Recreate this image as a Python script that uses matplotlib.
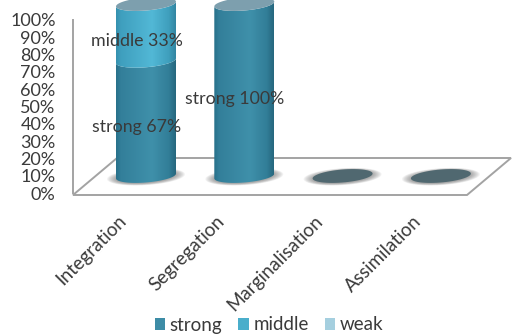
import numpy as np
import matplotlib
matplotlib.use('Agg')
import matplotlib.pyplot as plt
from matplotlib.colors import to_rgb
from matplotlib.patches import PathPatch, Patch, Polygon
from matplotlib.path import Path

categories = ['Integration', 'Segregation', 'Marginalisation', 'Assimilation']
series_names = ['strong', 'middle', 'weak']
strong = [67, 100, 0, 0]
middle = [33, 0, 0, 0]
weak = [0, 0, 0, 0]
axis_ticks = [0, 10, 20, 30, 40, 50, 60, 70, 80, 90, 100]

W, H = 512, 336
PX_PER_CAT = 98.3
PX_PER_PCT = 1.72
RX = 30 / PX_PER_CAT
RY = 6.5 / PX_PER_PCT
TILT = 2.4 / PX_PER_PCT

TEXT = '#3a3a3a'
GRID = '#a3a3a3'
LEGEND_COLORS = ['#3d8ca6', '#4aaecb', '#a5cfdf']
# colour stops across the width of each cylinder segment
STOPS = [0, 0.08, 0.6, 0.88, 1]
SHADES = {
    'strong': ['#27708a', '#337f9a', '#3f90aa', '#327e98', '#26677e'],
    'middle': ['#3590ae', '#3f9fbe', '#52b8d6', '#3f9fbd', '#3285a1'],
}

plt.rcParams['font.family'] = ['Lato', 'DejaVu Sans']


def fig_xy(x, y):
    return x / W, 1 - y / H


def arc(i, v, start, stop, scale=1.0):
    t = np.linspace(start, stop, 60)
    return np.column_stack([i + scale * RX * np.cos(t),
                            v + scale * RY * np.sin(t) + TILT * np.cos(t)])


def gradient(shades):
    c = np.array([to_rgb(s) for s in shades])
    pos = np.linspace(0, 1, 200)
    rgb = [np.interp(pos, STOPS, c[:, k]) for k in range(3)]
    return np.dstack(rgb)


def draw_segment(ax, i, v0, v1, shades):
    pts = np.vstack([arc(i, v0, np.pi, 2 * np.pi), arc(i, v1, 2 * np.pi, np.pi)])
    clip = PathPatch(Path(np.vstack([pts, pts[0]])), transform=ax.transData, fc='none', ec='none')
    ax.add_patch(clip)
    im = ax.imshow(gradient(shades), extent=[i - RX, i + RX, v0 - 2 * RY, v1 + 2 * RY],
                   aspect='auto', zorder=3, interpolation='bilinear')
    im.set_clip_path(clip)


def draw_ellipse(ax, i, v, color, zorder=3):
    ax.add_patch(Polygon(arc(i, v, 0, 2 * np.pi), closed=True, fc=color, ec='none', zorder=zorder))


def draw_shadow(ax, i):
    # soft blob under each cylinder, built from fading ellipses
    for scale in np.linspace(1.3, 1.0, 10):
        ax.add_patch(Polygon(arc(i, -0.4, 0, 2 * np.pi, scale), closed=True, fc='#666666',
                             ec='none', alpha=0.075, zorder=2))


fig = plt.figure(figsize=(W / 100, H / 100), dpi=100)

# floor of the 3D box
floor = [fig_xy(73, 195), fig_xy(467, 195), fig_xy(511, 158), fig_xy(117, 158)]
fig.add_artist(Polygon(floor, closed=True, fc='white', ec=GRID, lw=1.4,
                       transform=fig.transFigure, zorder=0))

# back wall axis with the percentage scale
x0, y0 = fig_xy(73, 193)
wall = fig.add_axes([x0, y0, 40 / W, 173 / H], facecolor='none', zorder=1)
wall.set_ylim(0, 100)
wall.set_xticks([])
wall.set_yticks(axis_ticks)
wall.set_yticklabels([f'{t}%' for t in axis_ticks], fontsize=13, color=TEXT)
wall.tick_params(axis='y', length=0, pad=12.5)
for name in ['top', 'right', 'bottom']:
    wall.spines[name].set_visible(False)
wall.spines['left'].set_color(GRID)
wall.spines['left'].set_linewidth(1.4)

# cylinders live on a full-figure axes: one unit per category, percent upwards
ax = fig.add_axes([0, 0, 1, 1], facecolor='none', zorder=2)
for i in range(len(categories)):
    draw_shadow(ax, i)
    bottom = 0
    total = strong[i] + middle[i] + weak[i]
    if total == 0:
        draw_ellipse(ax, i, 0, '#506870')
    if strong[i] > 0:
        draw_segment(ax, i, 0, strong[i], SHADES['strong'])
        bottom += strong[i]
    if middle[i] > 0:
        draw_segment(ax, i, bottom, bottom + middle[i], SHADES['middle'])
        bottom += middle[i]
    if total > 0:
        draw_ellipse(ax, i, bottom, '#7d9fae', zorder=4)

    if strong[i] > 0:
        ax.text(i - 0.095, strong[i] / 2 - 5, f'strong {strong[i]}%', fontsize=12.8, color=TEXT,
                ha='center', va='center', zorder=6)
    if middle[i] > 0:
        ax.text(i - 0.095, strong[i] + middle[i] / 2 - 5, f'middle {middle[i]}%', fontsize=12.8,
                color=TEXT, ha='center', va='center', zorder=6)

    ax.text(i - 0.29, -21, categories[i], rotation=45, rotation_mode='anchor', fontsize=13.5,
            color=TEXT, ha='right', va='top', zorder=6)

ax.set_xlim(-146 / PX_PER_CAT, (W - 146) / PX_PER_CAT)
ax.set_ylim((176 - H) / PX_PER_PCT, 176 / PX_PER_PCT)
ax.axis('off')

handles = [Patch(fc=c, ec='none') for c in LEGEND_COLORS]
fig.legend(handles, series_names, ncols=3, frameon=False, loc='center',
           bbox_to_anchor=fig_xy(269, 325), fontsize=13.5, labelcolor=TEXT,
           handlelength=0.55, handleheight=0.55, handletextpad=0.25, columnspacing=0.85)

fig.savefig('out.png', dpi=100)
